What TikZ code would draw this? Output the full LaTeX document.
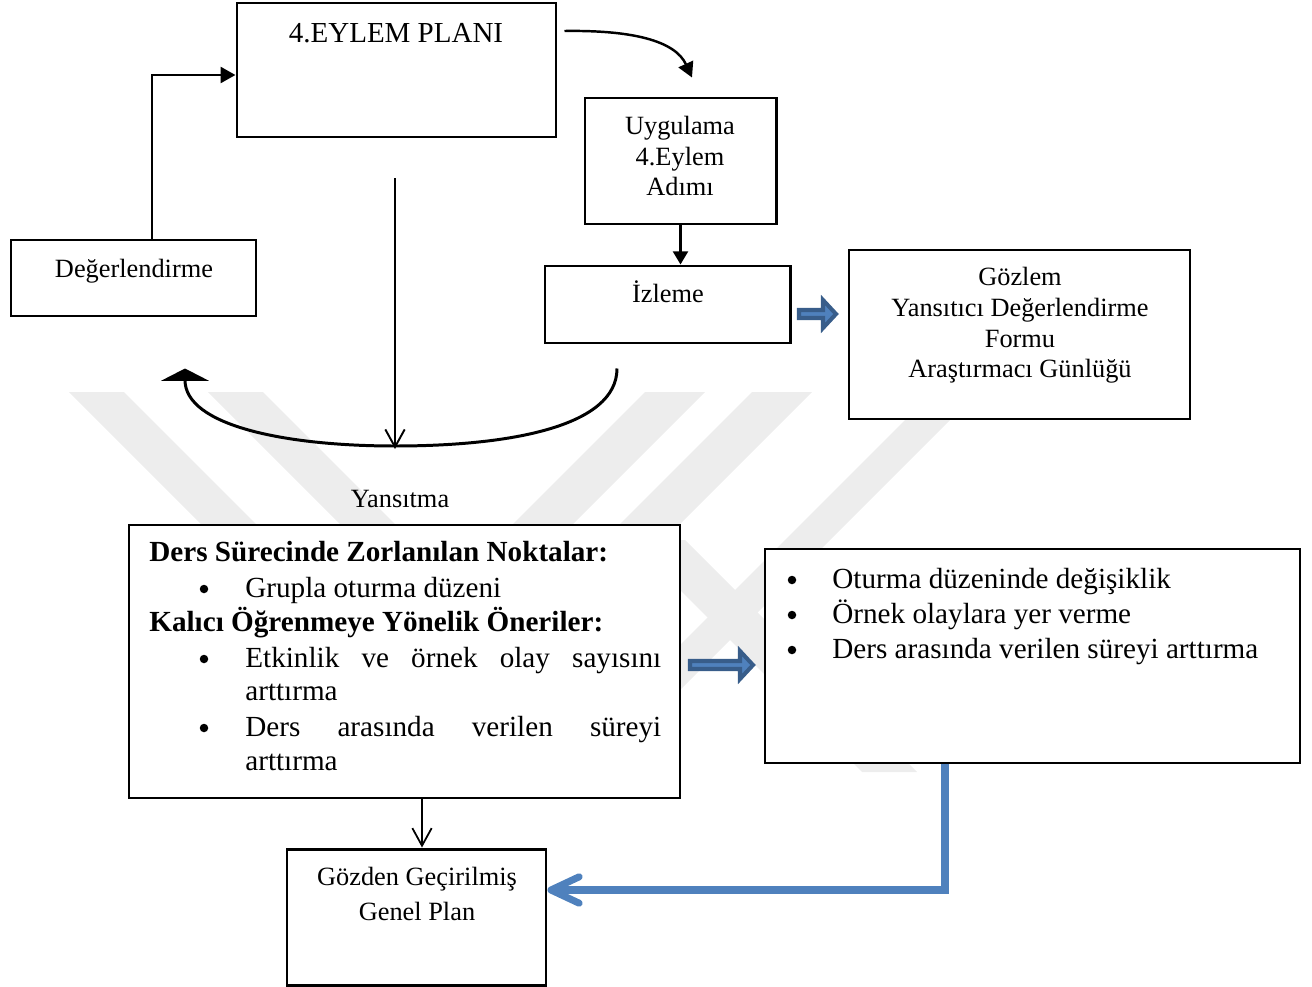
\documentclass[tikz,border=0pt]{standalone}
\usepackage{fontspec}
\setmainfont{Liberation Serif}
\usetikzlibrary{arrows.meta,calc}
\definecolor{wm}{HTML}{EDEDED}
\definecolor{officeblue}{HTML}{4F81BD}
\definecolor{officeedge}{HTML}{385D8A}

\begin{document}
\begin{tikzpicture}[x=0.02cm,y=-0.02cm,
  box/.style={draw, fill=white, inner sep=0pt, line width=1.7pt},
  midbox/.style={draw, fill=white, inner sep=0pt, line width=1.1pt},
  thinbox/.style={draw, fill=white, inner sep=0pt, line width=0.85pt},
  sz/.style 2 args={minimum width=#1*0.02cm, minimum height=#2*0.02cm},
  up/.style={inner sep=0pt, anchor=base, font=\fontsize{15}{18}\selectfont},
  big/.style={inner sep=0pt, anchor=base, font=\fontsize{16.5}{20}\selectfont},
  low/.style={inner sep=0pt, anchor=base west, font=\fontsize{16.6}{20}\selectfont},
  lowb/.style={inner sep=0pt, anchor=base west, font=\fontsize{16.6}{20}\selectfont\bfseries},
  dot/.style={circle, fill=black, inner sep=0pt, minimum size=0.17cm},
  band/.style={fill=wm, draw=none},
  blockarrow/.style={fill=officeblue, draw=officeedge, line width=2.3pt, line join=miter},
  thickline/.style={line width=1.7pt},
  thinline/.style={line width=1.1pt},
]
\useasboundingbox (0,0) rectangle (1312,987);

% faint background emblem
\fill[band] (69,392) -- (124,392) -- (504,772) -- (449,772) -- cycle;
\fill[band] (208,392) -- (263,392) -- (563,692) -- (508,692) -- cycle;
\fill[band] (645,392) -- (705,392) -- (405,692) -- (345,692) -- cycle;
\fill[band] (752,392) -- (812,392) -- (512,692) -- (452,692) -- cycle;
\fill[band] (933,392) -- (978,392) -- (670,700) -- (625,700) -- cycle;
\fill[band] (630,540) -- (685,540) -- (917,772) -- (862,772) -- cycle;

% boxes
\node[box, sz={319}{134}] (plan) at (396.5,70) {};
\node[box, sz={191}{126}] (uyg) at (680.5,161) {};
\node[box, sz={245}{77}] (izl) at (667.5,304.5) {};
\node[box, sz={245}{76}] (deg) at (133.5,278) {};
\node[midbox, sz={341}{169}] (gzl) at (1019.5,334.5) {};
\node[thinbox, sz={551}{273}] (bigbox) at (404.5,661.5) {};
\node[thinbox, sz={535}{214}] (rb) at (1032.5,656) {};
\node[box, sz={259}{136}] (gzd) at (416.5,917) {};

% labels of the upper part
\node[big] (planlbl) at (396,42) {4.EYLEM PLANI};
\node[up] (uyg1) at (680,134) {Uygulama};
\node[up] (uyg2) at (680,165) {4.Eylem};
\node[up] (uyg3) at (680,195) {Adımı};
\node[up] (izllbl) at (668,302) {İzleme};
\node[up] (deglbl) at (134,277) {Değerlendirme};
\node[up] (gzl1) at (1020,285) {Gözlem};
\node[up] (gzl2) at (1020,316) {Yansıtıcı Değerlendirme};
\node[up] (gzl3) at (1020,347) {Formu};
\node[up] (gzl4) at (1020,377) {Araştırmacı Günlüğü};
\node[up] (yans) at (400,507) {Yansıtma};
\node[up] (gzd1) at (417,885) {Gözden Geçirilmiş};
\node[up] (gzd2) at (417,920) {Genel Plan};

% left list box
\node[lowb] (h1) at (149,561) {Ders Sürecinde Zorlanılan Noktalar:};
\node[dot] (d1) at (204,589) {};
\node[low] (l1) at (245,597) {Grupla oturma düzeni};
\node[lowb] (h2) at (149,631) {Kalıcı Öğrenmeye Yönelik Öneriler:};
\node[dot] (d2) at (204,659) {};
\node[low] (l2) at (245,667) {\makebox[8.32cm][s]{Etkinlik ve örnek olay sayısını}};
\node[low] (l3) at (245,700) {arttırma};
\node[dot] (d3) at (204,728) {};
\node[low] (l4) at (245,736) {\makebox[8.32cm][s]{Ders arasında verilen süreyi}};
\node[low] (l5) at (245,770) {arttırma};

% right list box
\node[dot] (r1d) at (792,580) {};
\node[low] (r1) at (832,588) {Oturma düzeninde değişiklik};
\node[dot] (r2d) at (792,615) {};
\node[low] (r2) at (832,623) {Örnek olaylara yer verme};
\node[dot] (r3d) at (792,650) {};
\node[low] (r3) at (832,658) {Ders arasında verilen süreyi arttırma};

% connectors
\draw[thickline, -{Triangle[length=8.5pt,width=9pt]}]
  ($(deg.north)+(18.5,0)$) |- ($(plan.west)+(0,5)$);
\draw[line width=1.4pt, -{Triangle[length=8.5pt,width=9pt]}]
  ($(plan.east)+(7,-39)$) .. controls +(67,-1) and +(-17,-37) .. ($(uyg.north)+(11.5,-19)$);
\draw[line width=1.4pt, -{Triangle[length=7.5pt,width=8.5pt]}]
  (uyg.south) -- (uyg.south |- izl.north);

\coordinate (cs) at ($(izl.south)+(-50.5,24)$);
\coordinate (ce) at ($(deg.south)+(51.5,51)$);
\coordinate (cb) at (395,446);
\coordinate (vtop) at (395,178);
\draw[thickline, -{Triangle[length=7pt,width=27pt]}]
  (cs) .. controls +(0,58) and +(115,0) .. (cb) .. controls +(-110,0) and +(0,57) .. (ce);
\draw[thinline, -{Straight Barb[length=10pt,width=11pt]}] (vtop) -- ($(cb)+(0,3)$);

\coordinate (bq) at ($(bigbox.south)+(17.5,0)$);
\draw[line width=1pt, -{Straight Barb[length=10pt,width=11pt]}] (bq) -- (bq |- gzd.north);

\draw[officeblue, line width=4pt, -{Straight Barb[length=16pt,width=15pt,round]}]
  ($(rb.south)+(-87.5,0)$) |- ($(gzd.east)+(0,-27)$);

% block arrows
\draw[blockarrow] (799,310) -- (823,310) -- (823,300) -- (836,314) -- (823,328) -- (823,318) -- (799,318) -- cycle;
\draw[blockarrow] (690,661) -- (740,661) -- (740,651) -- (753,665) -- (740,679) -- (740,669) -- (690,669) -- cycle;
\end{tikzpicture}
\end{document}
